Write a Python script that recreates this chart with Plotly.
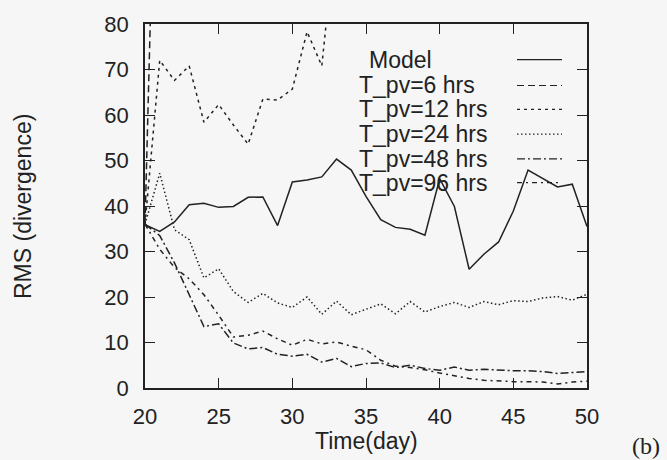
import plotly.graph_objects as go

# Time axis (days) and RMS divergence series
days = list(range(20, 51))

model = [35.9, 34.4, 36.5, 40.3, 40.6, 39.7, 39.9, 41.9, 42.0, 35.7,
         45.3, 45.7, 46.4, 50.3, 47.9, 42.1, 37.0, 35.3, 34.9, 33.6,
         46.0, 39.9, 26.1, 29.4, 32.1, 38.9, 47.9, 46.1, 44.2, 44.8, 35.5]

# short relaxation times blow up and leave the frame early
days_pv6 = [20, 21]
pv6 = [36.0, 160.0]

days_pv12 = list(range(20, 34))
pv12 = [36.0, 72.0, 67.6, 70.8, 58.4, 62.3, 57.8, 53.6, 63.5, 63.3,
        65.7, 78.3, 70.8, 102.0]

pv24 = [36.0, 47.2, 34.8, 32.6, 24.2, 26.2, 21.2, 18.8, 20.8, 18.7,
        17.7, 20.0, 16.2, 19.1, 16.1, 17.3, 18.5, 16.3, 19.0, 16.7,
        17.9, 18.8, 17.7, 19.0, 18.3, 19.2, 19.0, 19.8, 20.1, 19.3, 20.6]

pv48 = [36.0, 33.5, 27.5, 20.5, 13.5, 14.1, 9.9, 8.6, 8.9, 7.4,
        7.0, 7.4, 5.7, 6.5, 4.7, 5.4, 5.5, 4.5, 5.0, 4.3,
        3.9, 4.6, 3.9, 4.1, 3.9, 3.8, 3.8, 3.6, 3.2, 3.4, 3.6]

pv96 = [36.0, 30.5, 26.5, 24.0, 20.5, 16.0, 11.2, 11.6, 12.5, 10.8,
        9.4, 10.7, 9.7, 10.1, 9.2, 8.4, 6.1, 4.8, 4.5, 4.0,
        3.3, 2.7, 2.1, 1.7, 1.5, 1.4, 1.4, 1.3, 0.9, 1.3, 1.5]

labels = ["Model", "T_pv=6 hrs", "T_pv=12 hrs", "T_pv=24 hrs",
          "T_pv=48 hrs", "T_pv=96 hrs"]

INK = "#222222"
BG = "#f6f6f6"
W, H = 667, 460
L, R, T, B = 145, 80, 21, 72

dashes = ["solid", "7px,4px", "3px,4px", "1.5px,2.5px",
          "8px,3px,2px,3px", "5px,4px,2px,4px"]
series = [(days, model), (days_pv6, pv6), (days_pv12, pv12),
          (days, pv24), (days, pv48), (days, pv96)]

fig = go.Figure()
for (xs, ys), name, dash in zip(series, labels, dashes):
    fig.add_trace(go.Scatter(
        x=xs, y=ys, mode="lines", name=name, showlegend=False,
        line=dict(color=INK, width=1.5, dash=dash),
    ))

# key: text on the left, line sample on the right
pw, ph = W - L - R, H - T - B


def px_to_paper(px, py):
    return (px - L) / pw, (H - B - py) / ph


row_y = [57, 83, 107, 132, 157, 181]
for i, (name, dash) in enumerate(zip(labels, dashes)):
    tx = 368 if i == 0 else 358
    xp, yp = px_to_paper(tx, row_y[i])
    fig.add_annotation(x=xp, y=yp, xref="paper", yref="paper", text=name,
                       showarrow=False, xanchor="left", yanchor="middle",
                       borderpad=0, font=dict(size=23, color=INK))
    x0, y0 = px_to_paper(517, row_y[i])
    x1, _ = px_to_paper(562, row_y[i])
    fig.add_shape(type="line", xref="paper", yref="paper",
                  x0=x0, x1=x1, y0=y0, y1=y0,
                  line=dict(color=INK, width=1.2, dash=dash))

# axis titles and panel tag
fig.add_annotation(x=px_to_paper(23, 0)[0], y=0.5, xref="paper", yref="paper",
                   text="RMS (divergence)", textangle=-90, showarrow=False,
                   xanchor="center", yanchor="middle",
                   font=dict(size=23, color=INK))
fig.add_annotation(x=0.5, y=px_to_paper(0, 441)[1], xref="paper", yref="paper",
                   text="Time(day)", showarrow=False,
                   xanchor="center", yanchor="middle",
                   font=dict(size=23, color=INK))
fig.add_annotation(x=px_to_paper(646, 0)[0], y=px_to_paper(0, 446)[1],
                   xref="paper", yref="paper", text="(b)", showarrow=False,
                   xanchor="center", yanchor="middle",
                   font=dict(size=24, color=INK,
                             family="Liberation Serif, DejaVu Serif, serif"))

axis_common = dict(
    showline=True, linecolor=INK, linewidth=1.5, mirror="ticks",
    ticks="inside", ticklen=10, tickwidth=1.3, tickcolor=INK,
    showgrid=False, zeroline=False,
    tickfont=dict(size=22, color=INK),
)

fig.update_xaxes(range=[20, 50], tickmode="linear", tick0=20, dtick=5,
                 ticklabelstandoff=8, **axis_common)
fig.update_yaxes(range=[0, 80], tickmode="linear", tick0=0, dtick=10,
                 ticklabelstandoff=10, **axis_common)

fig.update_layout(
    width=W, height=H,
    margin=dict(l=L, r=R, t=T, b=B, pad=0),
    paper_bgcolor=BG, plot_bgcolor=BG,
    font=dict(family="Liberation Sans, Arial, sans-serif", color=INK),
)

fig.write_html("out.html")
